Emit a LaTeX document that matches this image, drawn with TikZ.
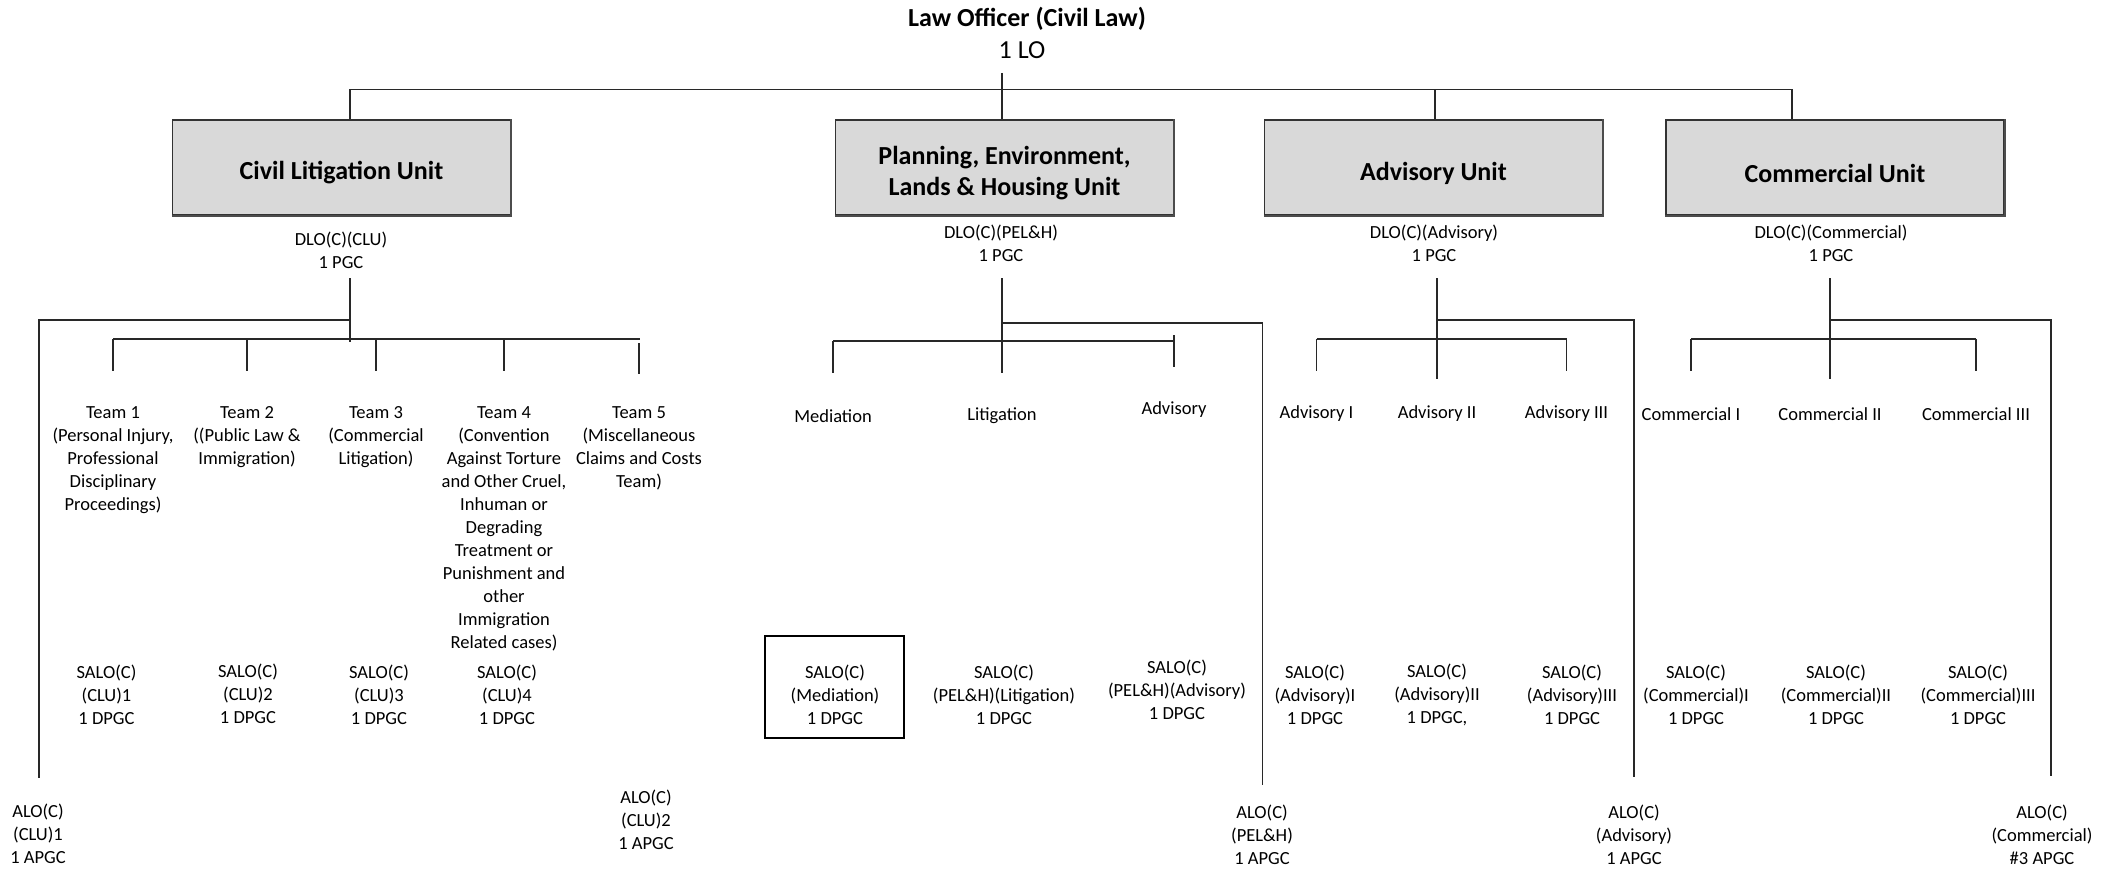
\documentclass[tikz,border=0pt]{standalone}
\usepackage{fontspec}
\setmainfont{Carlito}
\definecolor{boxfill}{RGB}{217,217,217}
\definecolor{linec}{RGB}{40,40,40}
\begin{document}
\begin{tikzpicture}[x=1pt,y=-1pt,
 conn/.style={draw=linec,line width=1.4pt},
 unitbox/.style={draw=black!80,line width=1.2pt,fill=boxfill,minimum width=338pt,minimum height=95pt,inner sep=0pt},
 unittext/.style={inner sep=0pt,font=\fontsize{26}{31}\selectfont\bfseries,align=center},
 lbl/.style={font=\fontsize{18.5}{23}\selectfont,align=center,inner sep=0pt},
 big/.style={font=\fontsize{26}{31}\selectfont,inner sep=0pt}
 ]
\useasboundingbox (0,0) rectangle (2107,869);

% top
\node[big,font=\fontsize{26}{31}\selectfont\bfseries] (title) at (1027,19) {Law Officer (Civil Law)};
\node[big] (lo) at (1022,50) {1 LO};

% unit boxes
\node[unitbox] (clu) at (341.5,167.5) {};
\node[unitbox] (pel) at (1004.5,167.5) {};
\node[unitbox] (adv) at (1433.5,167.5) {};
\node[unitbox] (com) at (1835,167.5) {};
\foreach \b in {clu,pel,adv,com}
  \draw[line width=2pt,black!70] (\b.south west) -- (\b.south east) -- (\b.north east);
\node[unittext] (clut) at (341.5,173) {Civil Litigation Unit};
\node[unittext] (pelt) at (1004.5,173.5) {Planning, Environment,\\Lands \& Housing Unit};
\node[unittext] (advt) at (1433.5,173) {Advisory Unit};
\node[unittext] (comt) at (1835,173) {Commercial Unit};

\coordinate (lostem) at (1002,73);
\draw[conn] (lostem) -- (lostem |- pel.north);
\draw[conn] ([xshift=8.5pt]clu.north) -- ++(0,-30) -| ([xshift=-43pt]com.north);
\draw[conn] ([xshift=1.5pt]adv.north) -- ++(0,-30);

% DLO labels
\node[lbl] (dclu) at (341,250.5) {DLO(C)(CLU)\\1 PGC};
\node[lbl] (dpel) at (1001,243.5) {DLO(C)(PEL\&H)\\1 PGC};
\node[lbl] (dadv) at (1434,243.5) {DLO(C)(Advisory)\\1 PGC};
\node[lbl] (dcom) at (1831,243.5) {DLO(C)(Commercial)\\1 PGC};

% ---------------- CLU group
\node[lbl] (t1) at (113,460) {Team 1\\(Personal Injury,\\Professional\\Disciplinary\\Proceedings)};
\node[lbl] (t2) at (247,437) {Team 2\\((Public Law \&\\Immigration)};
\node[lbl] (t3) at (376,437) {Team 3\\(Commercial\\Litigation)};
\node[lbl] (t4) at (504,529) {Team 4\\(Convention\\Against Torture\\and Other Cruel,\\Inhuman or\\Degrading\\Treatment or\\Punishment and\\other\\Immigration\\Related cases)};
\node[lbl] (t5) at (639,448.5) {Team 5\\(Miscellaneous\\Claims and Costs\\Team)};

\node[lbl] (s1) at (106.5,695) {SALO(C)\\(CLU)1\\1 DPGC};
\node[lbl] (s2) at (248,694) {SALO(C)\\(CLU)2\\1 DPGC};
\node[lbl] (s3) at (379,695) {SALO(C)\\(CLU)3\\1 DPGC};
\node[lbl] (s4) at (507,695) {SALO(C)\\(CLU)4\\1 DPGC};

\node[lbl] (a1) at (38,834) {ALO(C)\\(CLU)1\\1 APGC};
\node[lbl] (a2) at (646,820) {ALO(C)\\(CLU)2\\1 APGC};

\coordinate (cs) at (350,278);
\coordinate (a1top) at (39,778);
\draw[conn] (cs) -- (cs |- 0,342);
\draw[conn] (cs |- 0,320) -| (a1top);
\draw[conn] (t1 |- 0,339) -- (640,339);
\foreach \n in {t1,t2,t3,t4}
  \draw[conn] (\n |- 0,339) -- (\n |- 0,371);
\draw[conn] (t5 |- 0,343) -- (t5 |- 0,374);

% ---------------- PEL&H group
\node[lbl] (med) at (833,416) {Mediation};
\node[lbl] (lit) at (1002,416) {Litigation};
\node[lbl] (padv) at (1174,410) {Advisory};

\node[lbl] (smed) at (835,695) {SALO(C)\\(Mediation)\\1 DPGC};
\draw[line width=2.2pt,black] (765,636) rectangle (904,738);
\node[lbl] (slit) at (1004,695) {SALO(C)\\(PEL\&H)(Litigation)\\1 DPGC};
\node[lbl] (spadv) at (1177,689.5) {SALO(C)\\(PEL\&H)(Advisory)\\1 DPGC};
\node[lbl] (apel) at (1262,835) {ALO(C)\\(PEL\&H)\\1 APGC};

\coordinate (ps) at (1002,278);
\coordinate (apeltop) at (1262.5,785);
\draw[conn] (ps) -- (ps |- 0,373);
\draw[conn] (med |- 0,341) -- (padv |- 0,341);
\draw[conn] (med |- 0,341) -- (med |- 0,373);
\draw[conn] (padv |- 0,335) -- (padv |- 0,367);
\draw[conn] (ps |- 0,323) -| (apeltop);

% ---------------- Advisory group
\node[lbl] (adI) at (1316.5,414) {Advisory I};
\node[lbl] (adII) at (1437,414) {Advisory II};
\node[lbl] (adIII) at (1566.5,414) {Advisory III};
\node[lbl] (sadI) at (1315,695) {SALO(C)\\(Advisory)I\\1 DPGC};
\node[lbl] (sadII) at (1437,695) {SALO(C)\\(Advisory)II\\1 DPGC,};
\node[lbl] (sadIII) at (1572,695) {SALO(C)\\(Advisory)III\\1 DPGC};
\node[lbl] (aadv) at (1634,835) {ALO(C)\\(Advisory)\\1 APGC};

\coordinate (as) at (1437,278);
\coordinate (aadvtop) at (1634,777);
\draw[conn] (as) -- (as |- 0,379);
\draw[conn] (adI |- 0,339) -- (adIII |- 0,339);
\draw[conn] (adI |- 0,339) -- (adI |- 0,371);
\draw[conn] (adIII |- 0,339) -- (adIII |- 0,371);
\draw[conn] (as |- 0,320) -| (aadvtop);

% ---------------- Commercial group
\node[lbl] (cmI) at (1691,414) {Commercial I};
\node[lbl] (cmII) at (1830,414) {Commercial II};
\node[lbl] (cmIII) at (1976,414) {Commercial III};
\node[lbl] (scmI) at (1696,695) {SALO(C)\\(Commercial)I\\1 DPGC};
\node[lbl] (scmII) at (1836,695) {SALO(C)\\(Commercial)II\\1 DPGC};
\node[lbl] (scmIII) at (1978,695) {SALO(C)\\(Commercial)III\\1 DPGC};
\node[lbl] (acom) at (2042,835) {ALO(C)\\(Commercial)\\\#3 APGC};

\coordinate (ms) at (1830,278);
\coordinate (acomtop) at (2051,776);
\draw[conn] (ms) -- (ms |- 0,379);
\draw[conn] (cmI |- 0,339) -- (cmIII |- 0,339);
\draw[conn] (cmI |- 0,339) -- (cmI |- 0,371);
\draw[conn] (cmIII |- 0,339) -- (cmIII |- 0,371);
\draw[conn] (ms |- 0,320) -| (acomtop);
\end{tikzpicture}
\end{document}
